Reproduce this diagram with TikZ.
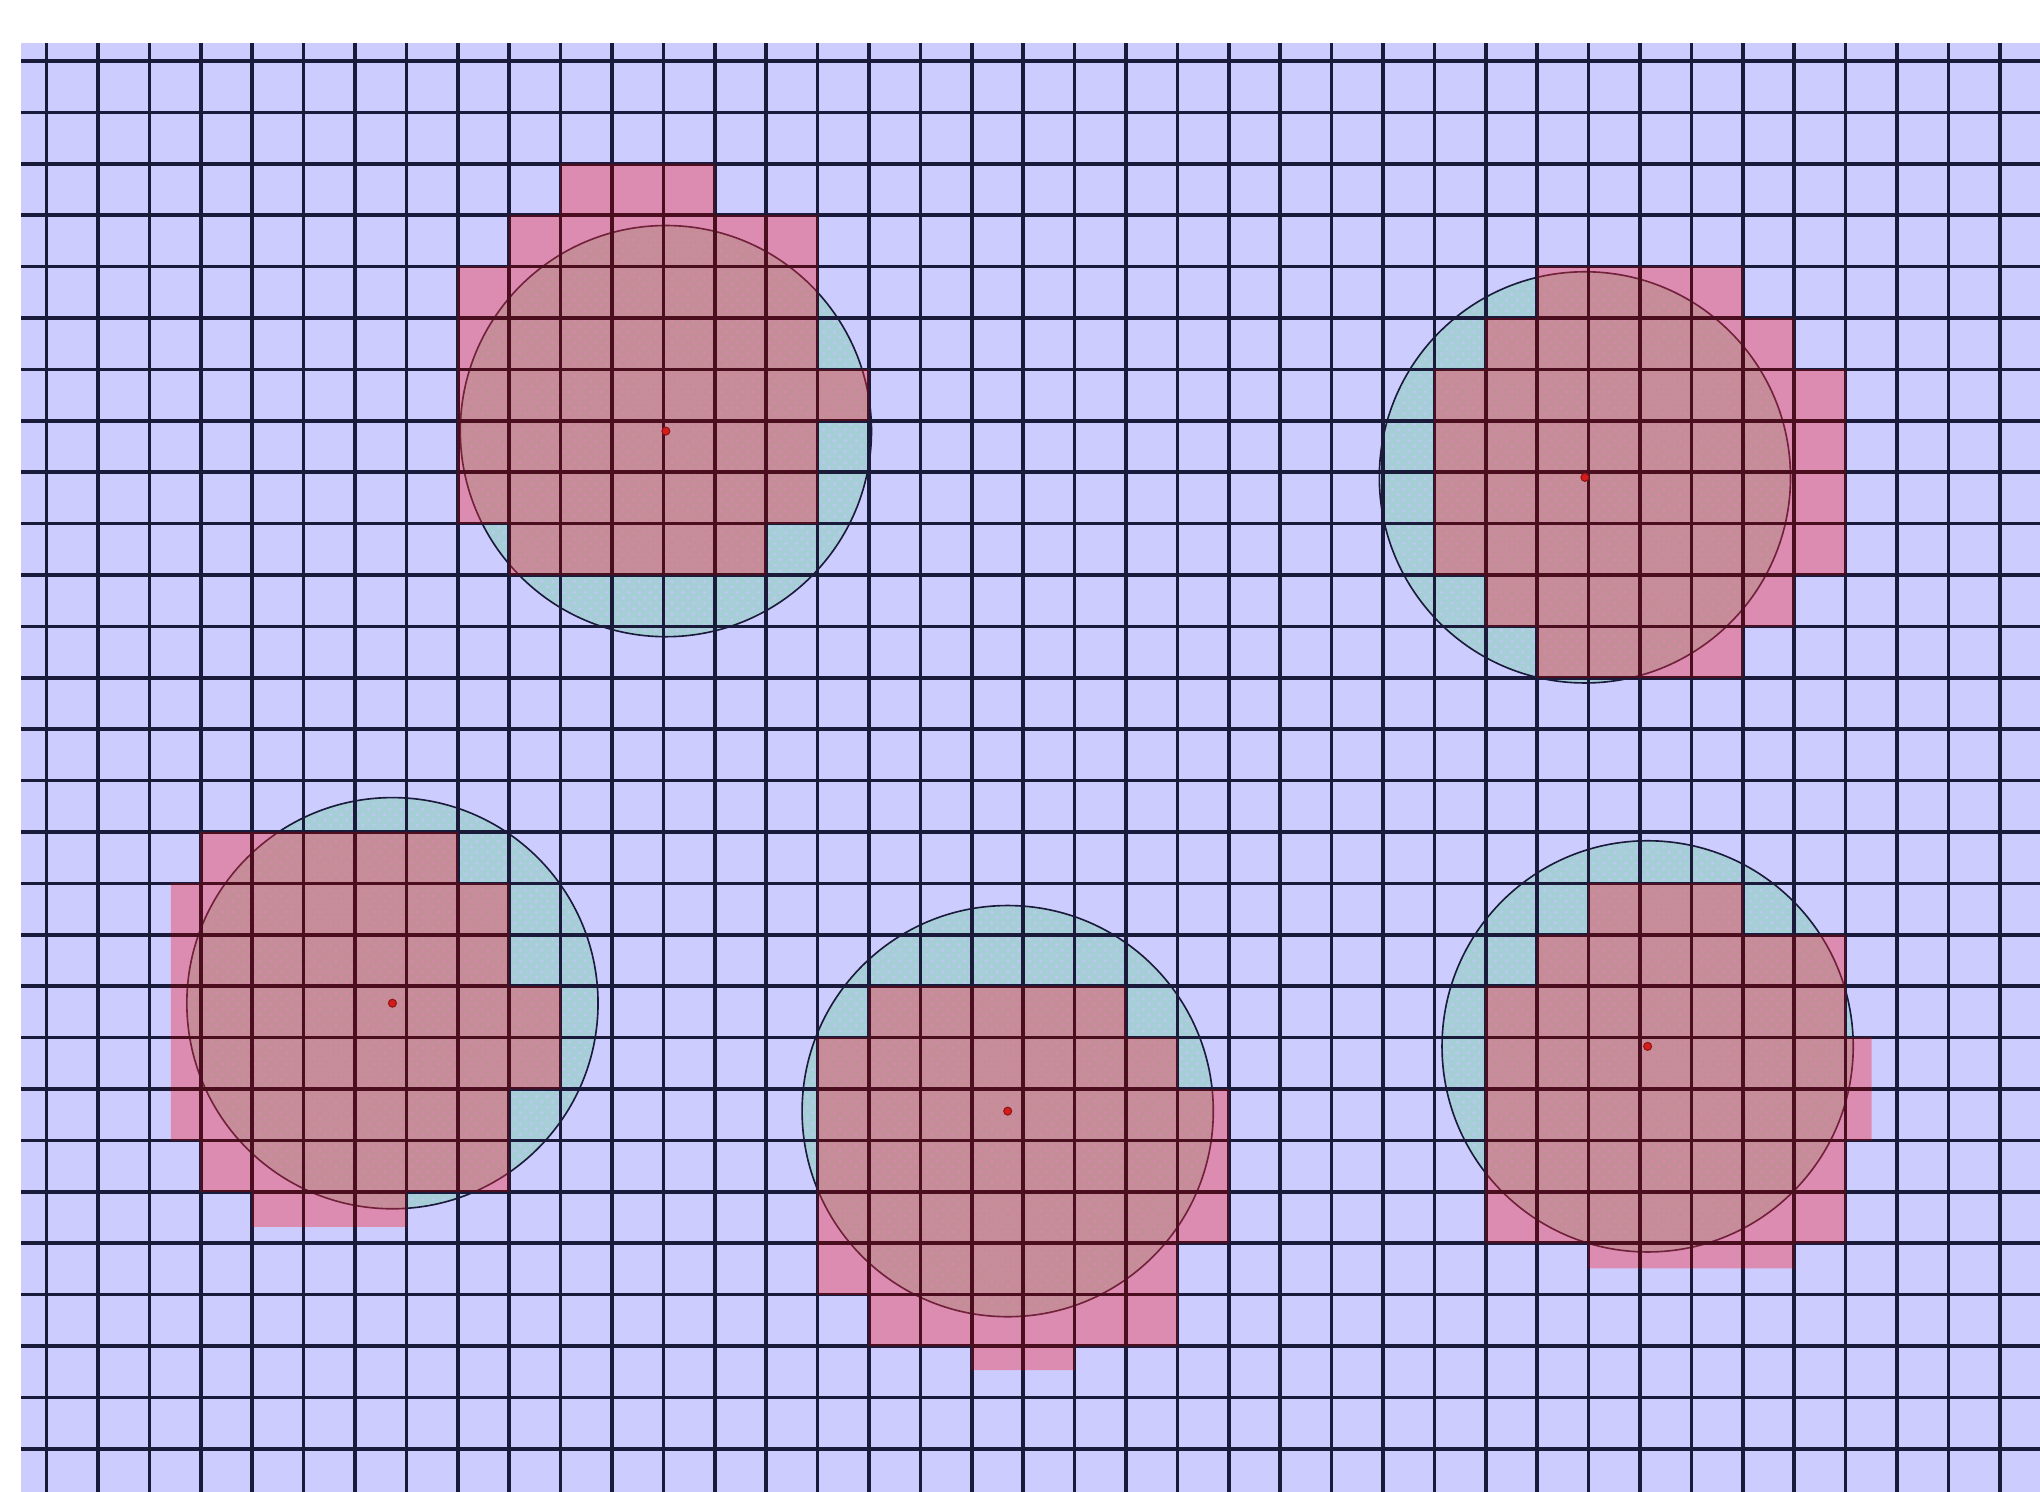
\documentclass[tikz,border=0pt]{standalone}
\usepackage{tikz}
\usetikzlibrary{patterns}
\definecolor{gridBg}{HTML}{CCCCFF}
\definecolor{gridLine}{HTML}{1A1A3A}
\definecolor{gridOnPix}{HTML}{4A0E1E}
\definecolor{diskFill}{HTML}{A6CED6}
\definecolor{diskDot}{HTML}{BCC8F2}
\definecolor{pixFill}{HTML}{F42C3A}
\definecolor{centerDot}{HTML}{D41C1C}
% rasterised cells of the five discs
\newcommand{\pixcells}{%
    (10,2) rectangle (13,3) (9,3) rectangle (15,4)
    (8,4) rectangle (15,6) (8,6) rectangle (16,7)
    (8,7) rectangle (15,9) (9,9) rectangle (14,10)
    (29,4) rectangle (33,5) (28,5) rectangle (34,6)
    (27,6) rectangle (35,10) (28,10) rectangle (34,11)
    (29,11) rectangle (33,12)
    (3,15) rectangle (8,16) (2.42,16) rectangle (9,18)
    (2.42,18) rectangle (10,20) (2.42,20) rectangle (9,21)
    (3,21) rectangle (9,22) (4,22) rectangle (7,22.68)
    (16,18) rectangle (21,19) (15,19) rectangle (22,20)
    (15,20) rectangle (23,23) (15,23) rectangle (22,24)
    (16,24) rectangle (22,25) (18,25) rectangle (20,25.47)
    (30,16) rectangle (33,17) (29,17) rectangle (35,18)
    (28,18) rectangle (35,19) (28,19) rectangle (35.51,21)
    (28,21) rectangle (35,23) (30,23) rectangle (34,23.49)}

\begin{document}
\begin{tikzpicture}[x=0.5cm, y=-0.5cm,
    disk/.style={fill=diskFill},
    diskdots/.style={pattern=crosshatch dots, pattern color=diskDot},
    rim/.style={draw=gridLine, line width=0.45pt},
    pixel/.style={fill=pixFill, fill opacity=0.4},
    gridline/.style={draw=gridLine, line width=1pt},
    centre/.style={fill=centerDot, draw=centerDot!70!black, line width=0.3pt}]
    \useasboundingbox (-0.905,-1.187) rectangle (38.784,27.840);
    \fill[gridBg] (-0.5,-0.35) rectangle (38.784,27.840);
    % discs
    \foreach \cx/\cy in {12.05/7.2, 29.93/8.1, 6.73/18.33, 18.7/20.43, 31.15/19.17} {
        \fill[disk] (\cx,\cy) circle[radius=2cm];
        \fill[diskdots] (\cx,\cy) circle[radius=2cm];
    }
    % grid
    \foreach \x in {0,...,38}
        \draw[gridline] (\x,-0.35) -- (\x,27.84);
    \foreach \y in {0,...,27}
        \draw[gridline] (-0.5,\y) -- (38.784,\y);
    \foreach \cx/\cy in {12.05/7.2, 29.93/8.1, 6.73/18.33, 18.7/20.43, 31.15/19.17}
        \draw[rim] (\cx,\cy) circle[radius=2cm];
    % rasterised cells
    \fill[pixel] \pixcells;
    \begin{scope}
        \clip \pixcells;
        \foreach \x in {0,...,38}
            \draw[gridline, gridOnPix] (\x,-0.35) -- (\x,27.84);
        \foreach \y in {0,...,27}
            \draw[gridline, gridOnPix] (-0.5,\y) -- (38.784,\y);
    \end{scope}
    % centres
    \foreach \cx/\cy in {12.05/7.2, 29.93/8.1, 6.73/18.33, 18.7/20.43, 31.15/19.17}
        \filldraw[centre] (\cx,\cy) circle[radius=1.1pt];
\end{tikzpicture}
\end{document}
